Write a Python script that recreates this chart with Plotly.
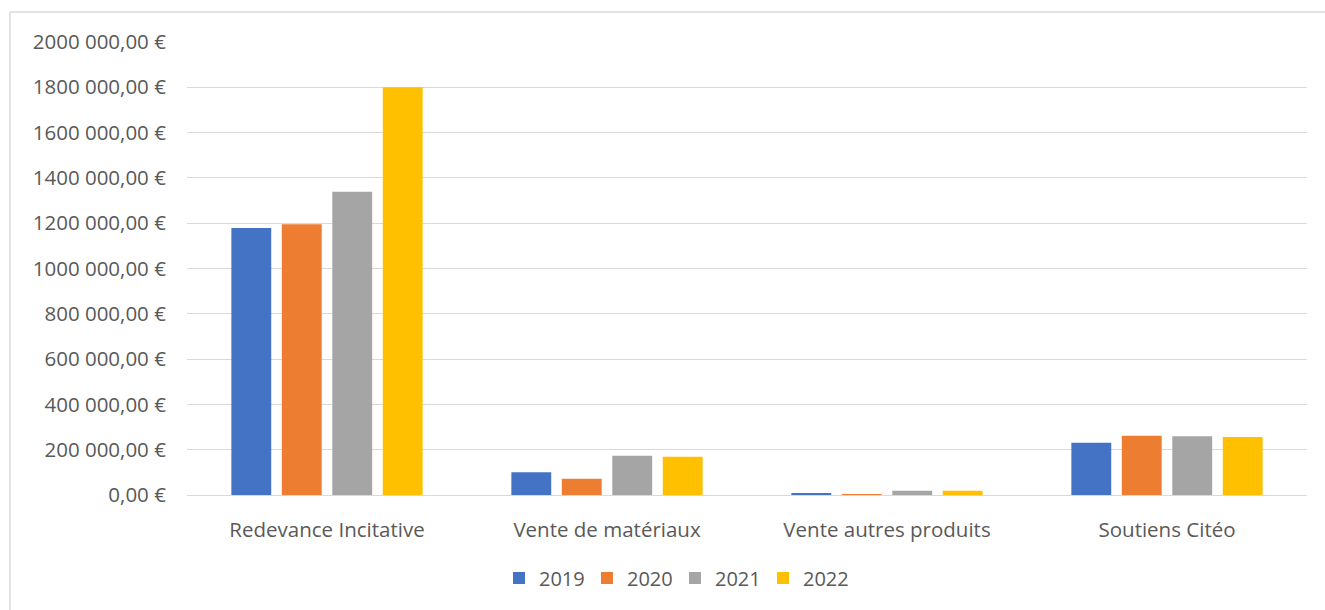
import plotly.graph_objects as go

categories = ["Redevance Incitative", "Vente de matériaux", "Vente autres produits", "Soutiens Citéo"]
years = ["2019", "2020", "2021", "2022"]
values_2019 = [1179000, 100000, 5000, 231000]
values_2020 = [1195000, 72000, 3000, 262000]
values_2021 = [1339000, 173500, 19000, 259000]
values_2022 = [1800000, 169000, 18500, 256000]
colors = ["#4472C4", "#ED7D31", "#A5A5A5", "#FFC000"]
tick_vals = [0, 200000, 400000, 600000, 800000, 1000000, 1200000, 1400000, 1600000, 1800000, 2000000]
tick_text = ["0,00 €", "200 000,00 €", "400 000,00 €", "600 000,00 €", "800 000,00 €",
             "1000 000,00 €", "1200 000,00 €", "1400 000,00 €", "1600 000,00 €",
             "1800 000,00 €", "2000 000,00 €"]

series = [values_2019, values_2020, values_2021, values_2022]

fig = go.Figure()
for name, vals, col in zip(years, series, colors):
    fig.add_trace(go.Bar(x=categories, y=vals, name=name,
                         marker=dict(color=col, line=dict(width=0))))

W, H = 1325, 610
L, R, T, B = 187, 18, 42, 115
pw = W - L - R
ph = H - T - B

def px_x(x):
    return (x - L) / pw

def px_y(y):
    return (T + ph - y) / ph

font = "Open Sans, Noto Sans, sans-serif"
fs = 20.5
fig.update_layout(
    width=W, height=H,
    margin=dict(l=L, r=R, t=T, b=B),
    paper_bgcolor="white", plot_bgcolor="white",
    barmode="group", bargap=0.279, bargroupgap=0.21,
    font=dict(family=font, size=fs, color="#595959"),
    showlegend=True,
    legend=dict(orientation="h", x=px_x(499), xanchor="left",
                y=px_y(578), yanchor="middle",
                font=dict(size=20, color="#595959"),
                itemwidth=30, entrywidth=43, entrywidthmode="pixels",
                traceorder="normal"),
    xaxis=dict(showgrid=False, showline=False, zeroline=False,
               ticks="outside", ticklen=16, tickcolor="rgba(0,0,0,0)",
               tickfont=dict(size=fs, color="#595959")),
    yaxis=dict(range=[0, 2000000], tickvals=tick_vals, ticktext=tick_text,
               showgrid=True, gridcolor="#D9D9D9", gridwidth=1.3,
               zeroline=True, zerolinecolor="#D9D9D9", zerolinewidth=1.3,
               showline=False, ticks="outside", ticklen=16, tickcolor="rgba(0,0,0,0)",
               tickfont=dict(size=fs, color="#595959")),
    shapes=[
        dict(type="line", xref="paper", yref="paper",
             x0=px_x(10), x1=px_x(1325), y0=px_y(12), y1=px_y(12),
             line=dict(color="#D9D9D9", width=1.5), layer="below"),
        dict(type="line", xref="paper", yref="paper",
             x0=px_x(10), x1=px_x(10), y0=px_y(12), y1=px_y(612),
             line=dict(color="#D9D9D9", width=1.5), layer="below"),
    ],
)

fig.write_html("out.html", config={"displayModeBar": False},
               post_script="document.body.style.margin='0';")
